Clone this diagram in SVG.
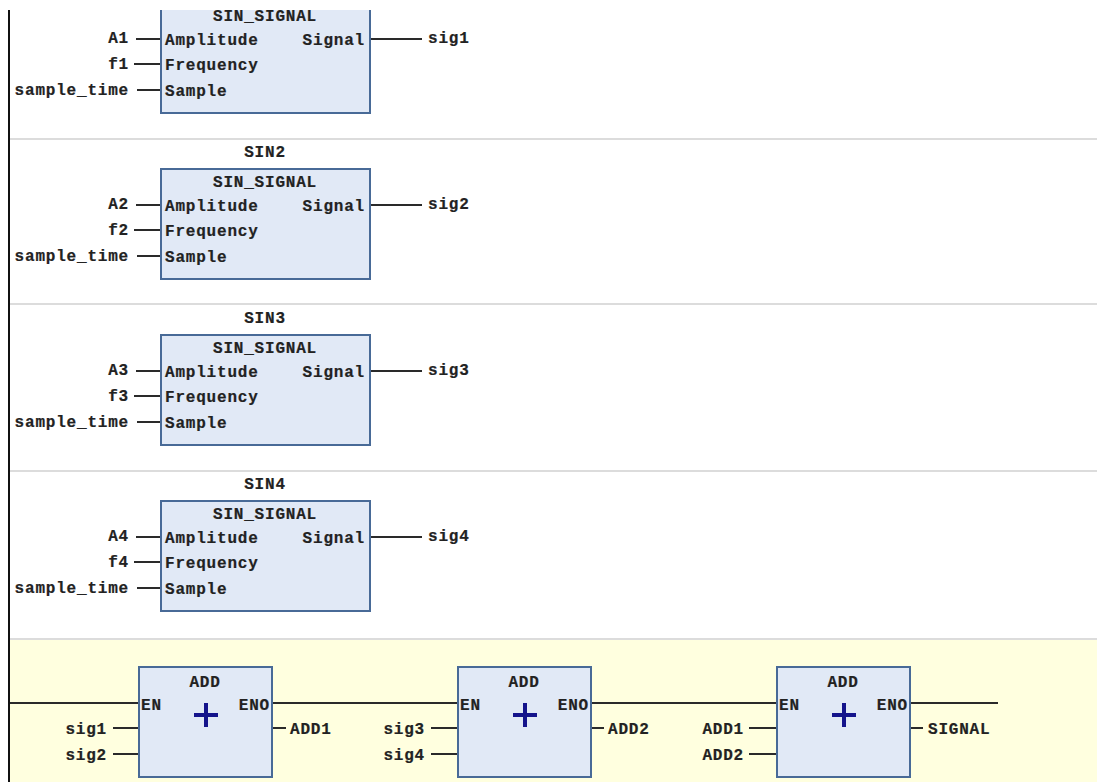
<svg xmlns="http://www.w3.org/2000/svg" width="1097" height="782" viewBox="0 0 1097 782">
<style>
text{font-family:"Liberation Mono","DejaVu Sans Mono",monospace;font-weight:700;font-size:16px;letter-spacing:.8px;fill:#222;stroke:#222;stroke-width:.2}
.m{text-anchor:middle}.e{text-anchor:end}
.b{fill:#e1e9f6;stroke:#486a97;stroke-width:2}
.w{stroke:#2a2a2a;stroke-width:2;fill:none}
.s{stroke:#dcdcdc;stroke-width:2;fill:none}
.p{fill:#14148c}
</style>
<defs>
<g id="sin">
<rect class="b" x="161" y="0" width="209" height="110"/>
<text class="m" x="265" y="18">SIN_SIGNAL</text>
<text x="165" y="42">Amplitude</text>
<text class="e" x="365" y="42">Signal</text>
<text x="165" y="67">Frequency</text>
<text x="165" y="93">Sample</text>
</g>
<g id="add">
<rect class="b" x="0" y="0" width="133" height="110"/>
<text class="m" x="66" y="20">ADD</text>
<text x="2" y="43">EN</text>
<text class="e" x="131" y="43">ENO</text>
<path class="p" d="M55 46h10v-10h4v10h10v4h-10v10h-4v-10h-10z"/>
</g>
</defs>
<rect width="1097" height="782" fill="#fff"/>
<rect x="10" y="640" width="1087" height="142" fill="#ffffdf"/>
<g id="separators">
<path class="s" d="M10 139H1097M10 304H1097M10 471H1097M10 639H1097"/>
</g>
<g id="connectors">
<path class="w" d="M136 39H161M134 64H161M137 90H161M370 39H422"/>
<path class="w" d="M136 205H161M134 230H161M137 256H161M370 205H422"/>
<path class="w" d="M136 371H161M134 396H161M137 422H161M370 371H422"/>
<path class="w" d="M136 537H161M134 562H161M137 588H161M370 537H422"/>
<path class="w" d="M10 703H139M272 703H458M590 703H776M910 703H998"/>
<path class="w" d="M113 728H139M113 754H139M272 728H286M431 728H458M431 754H458M590 728H604M749 728H776M749 754H776M910 728H923"/>
</g>
<g id="sin1">
<use href="#sin" x="0" y="3"/>
<text class="e" x="129" y="43">A1</text><text class="e" x="129" y="69">f1</text><text class="e" x="129" y="95">sample_time</text><text x="428" y="43">sig1</text>
</g>
<g id="sin2">
<text class="m" x="265" y="157">SIN2</text>
<use href="#sin" x="0" y="169"/>
<text class="e" x="129" y="209">A2</text><text class="e" x="129" y="235">f2</text><text class="e" x="129" y="261">sample_time</text><text x="428" y="209">sig2</text>
</g>
<g id="sin3">
<text class="m" x="265" y="323">SIN3</text>
<use href="#sin" x="0" y="335"/>
<text class="e" x="129" y="375">A3</text><text class="e" x="129" y="401">f3</text><text class="e" x="129" y="427">sample_time</text><text x="428" y="375">sig3</text>
</g>
<g id="sin4">
<text class="m" x="265" y="489">SIN4</text>
<use href="#sin" x="0" y="501"/>
<text class="e" x="129" y="541">A4</text><text class="e" x="129" y="567">f4</text><text class="e" x="129" y="593">sample_time</text><text x="428" y="541">sig4</text>
</g>
<g id="add1">
<use href="#add" x="139" y="667"/>
<text class="e" x="107" y="734">sig1</text><text class="e" x="107" y="760">sig2</text><text x="290" y="734">ADD1</text>
</g>
<g id="add2">
<use href="#add" x="458" y="667"/>
<text class="e" x="425" y="734">sig3</text><text class="e" x="425" y="760">sig4</text><text x="608" y="734">ADD2</text>
</g>
<g id="add3">
<use href="#add" x="777" y="667"/>
<text class="e" x="744" y="734">ADD1</text><text class="e" x="744" y="760">ADD2</text><text x="928" y="734">SIGNAL</text>
</g>
<rect x="0" y="0" width="1097" height="10" fill="#fff"/>
<path d="M9 10V782" stroke="#111" stroke-width="2" fill="none"/>
</svg>
